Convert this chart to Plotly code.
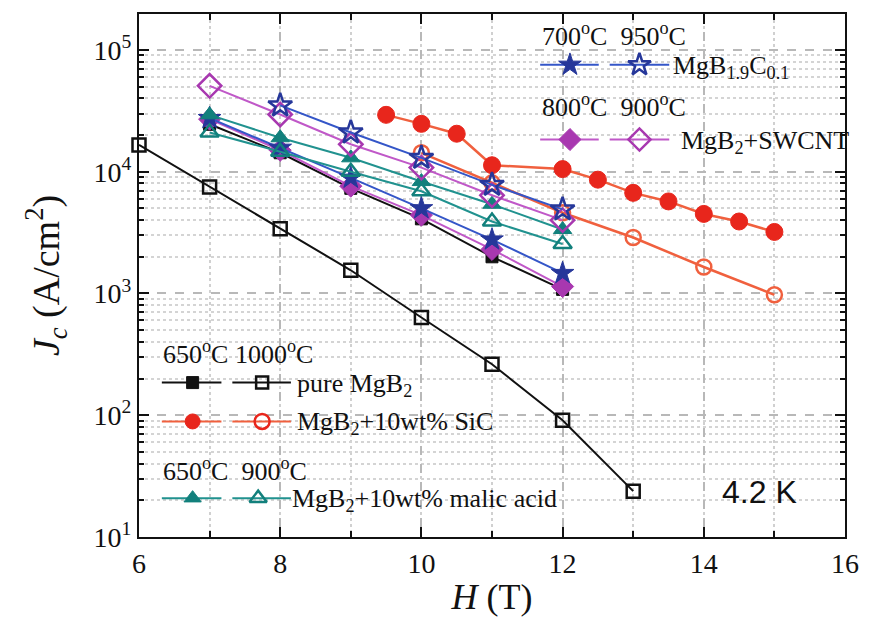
import plotly.graph_objects as go

# ---------------- data ----------------
H_main = [7, 8, 9, 10, 11, 12]
pure_650 = [2.45e4, 1.43e4, 7.3e3, 4.1e3, 2.0e3, 1.08e3]
H_pure1000 = [6, 7, 8, 9, 10, 11, 12, 13]
pure_1000 = [1.66e4, 7.5e3, 3.4e3, 1.55e3, 635, 262, 91, 23.8]

H_sic650 = [9.5, 10, 10.5, 11, 12, 12.5, 13, 13.5, 14, 14.5, 15]
sic_650 = [2.93e4, 2.47e4, 2.05e4, 1.13e4, 1.05e4, 8.6e3, 6.7e3, 5.7e3, 4.5e3, 3.9e3, 3.2e3]
H_sic1000 = [10, 11, 12, 13, 14, 15]
sic_1000 = [1.43e4, 8.1e3, 4.6e3, 2.88e3, 1.65e3, 975]

c_700 = [2.75e4, 1.57e4, 8.9e3, 5.0e3, 2.77e3, 1.47e3]
H_c950 = [8, 9, 10, 11, 12]
c_950 = [3.5e4, 2.1e4, 1.3e4, 7.8e3, 4.9e3]

sw_800 = [2.7e4, 1.5e4, 7.6e3, 4.4e3, 2.3e3, 1.14e3]
sw_900 = [5.07e4, 2.95e4, 1.68e4, 1.08e4, 6.4e3, 4.0e3]

ma_650 = [2.93e4, 1.9e4, 1.3e4, 8.3e3, 5.4e3, 3.35e3]
ma_900 = [2.1e4, 1.46e4, 1.0e4, 6.9e3, 3.9e3, 2.55e3]

x_ticks = [6, 8, 10, 12, 14, 16]
x_ticktext = ["6", "8", "10", "12", "14", "16"]
y_tickvals = [1e1, 1e2, 1e3, 1e4, 1e5]
y_ticktext = ["10<sup>1</sup>", "10<sup>2</sup>", "10<sup>3</sup>", "10<sup>4</sup>", "10<sup>5</sup>"]

# ---------------- styles ----------------
BLACK = "#111111"
RED_F = "#e8261c"
RED_O = "#f0603e"
BLUE_L = "#3456c8"
BLUE_F = "#26379a"
MAG_L = "#c058c8"
MAG_F = "#a838b0"
TEAL_L = "#21928f"
TEAL_F = "#12807c"
SERIF = "Liberation Serif"
SANS = "Liberation Sans"

fig = go.Figure()

def add(x, y, color, mcolor, symbol, size, filled, lw=2):
    fig.add_trace(go.Scatter(
        x=x, y=y, mode="lines+markers", cliponaxis=False,
        line=dict(color=color, width=lw),
        marker=dict(symbol=symbol if filled else symbol + "-open", size=size,
                    color=mcolor, line=dict(color=mcolor, width=2.5 if not filled else 1)),
        showlegend=False))

add(H_pure1000, pure_1000, BLACK, BLACK, "square", 13, False)
add(H_sic1000, sic_1000, RED_O, RED_O, "circle", 15, False, 2.5)
add(H_sic650, sic_650, RED_O, RED_F, "circle", 17, True, 2.5)
add(H_main, pure_650, BLACK, BLACK, "square", 12, True)
add(H_main, sw_800, MAG_L, MAG_F, "diamond", 17, True)
add(H_main, c_700, BLUE_L, BLUE_F, "star", 17, True)
add(H_main, ma_900, TEAL_L, TEAL_F, "triangle-up", 16, False)
add(H_main, ma_650, TEAL_L, TEAL_F, "triangle-up", 16, True)
add(H_main, sw_900, MAG_L, MAG_F, "diamond", 18, False)
add(H_c950, c_950, BLUE_L, BLUE_F, "star", 18, False)

# ---------------- custom legend on overlay axis (pixel-like coords) ----------------
def leg_row(y, color, mcolor, symbol, size, xs=(543, 602, 613, 673), m=(573, 643)):
    for a, b in [(xs[0], xs[1]), (xs[2], xs[3])]:
        fig.add_trace(go.Scatter(x=[a, b], y=[y, y], mode="lines", xaxis="x2", yaxis="y2",
                                 line=dict(color=color, width=2), showlegend=False,
                                 hoverinfo="skip", cliponaxis=False))
    fig.add_trace(go.Scatter(x=[m[0]], y=[y], mode="markers", xaxis="x2", yaxis="y2",
                             marker=dict(symbol=symbol, size=size, color=mcolor,
                                         line=dict(color=mcolor, width=1)),
                             showlegend=False, hoverinfo="skip", cliponaxis=False))
    fig.add_trace(go.Scatter(x=[m[1]], y=[y], mode="markers", xaxis="x2", yaxis="y2",
                             marker=dict(symbol=symbol + "-open", size=size, color=mcolor,
                                         line=dict(color=mcolor, width=2.5)),
                             showlegend=False, hoverinfo="skip", cliponaxis=False))

leg_row(63, BLUE_L, BLUE_F, "star", 17)
leg_row(138, MAG_L, MAG_F, "diamond", 17)
BL = (162, 222, 233, 292)
BM = (193, 263)
leg_row(382, BLACK, BLACK, "square", 12, BL, BM)
leg_row(421, RED_O, RED_F, "circle", 15, BL, BM)
leg_row(498, TEAL_L, TEAL_F, "triangle-up", 15, BL, (193, 259))

def txt(x, y, s, size=26, family=SERIF, anchor="left"):
    fig.add_annotation(x=x, y=y, xref="x2", yref="y2", text=s, showarrow=False,
                       xanchor=anchor, yanchor="middle",
                       font=dict(family=family, size=size, color=BLACK))

txt(543, 33, "700<sup>o</sup>C  950<sup>o</sup>C")
txt(675, 65, "MgB<sub>1.9</sub>C<sub>0.1</sub>")
txt(543, 104, "800<sup>o</sup>C  900<sup>o</sup>C")
txt(683, 140, "MgB<sub>2</sub>+SWCNT")
txt(161, 352, "650<sup>o</sup>C 1000<sup>o</sup>C")
txt(296, 384, "pure MgB<sub>2</sub>")
txt(296, 423, "MgB<sub>2</sub>+10wt% SiC")
txt(161, 469, "650<sup>o</sup>C  900<sup>o</sup>C")
txt(291, 500, "MgB<sub>2</sub>+10wt% malic acid")
txt(764, 492, "4.2 K", size=32, family=SANS, anchor="center")

# ---------------- layout ----------------
minor_y = [k * 10 ** n for n in range(1, 5) for k in range(2, 10)] + [2e5]

axis_common = dict(showline=True, linecolor=BLACK, linewidth=2, mirror="allticks",
                   ticks="inside", ticklen=10, tickwidth=2, tickcolor=BLACK,
                   showgrid=True, gridcolor="#b8b8b8", griddash="dash", gridwidth=1.5,
                   zeroline=False,
                   tickfont=dict(family=SERIF, size=28, color=BLACK))

fig.update_layout(
    width=871, height=632,
    margin=dict(l=139, r=21, t=12, b=95),
    paper_bgcolor="white", plot_bgcolor="white",
    showlegend=False,
    font=dict(family=SERIF, color=BLACK),
    xaxis=dict(range=[6, 16], tickvals=x_ticks, ticktext=x_ticktext,
               minor=dict(dtick=1, tick0=6, ticks="inside", ticklen=6, tickwidth=2,
                          tickcolor=BLACK, showgrid=True, gridcolor="#d0d0d0",
                          griddash="dot", gridwidth=1.5),
               title=dict(text="<i>H</i> (T)", font=dict(family=SERIF, size=36, color=BLACK),
                          standoff=6),
               **axis_common),
    yaxis=dict(type="log", range=[1, 5.295], tickvals=y_tickvals, ticktext=y_ticktext,
               minor=dict(tickvals=minor_y, ticks="inside", ticklen=5, tickwidth=1.5,
                          tickcolor=BLACK, showgrid=True, gridcolor="#d4d4d4",
                          griddash="dot", gridwidth=1.5),
               title=dict(text="<i>J</i><sub><i>c</i></sub> (A/cm<sup>2</sup>)",
                          font=dict(family=SERIF, size=38, color=BLACK), standoff=22),
               **axis_common),
    xaxis2=dict(overlaying="x", range=[139, 850], visible=False),
    yaxis2=dict(overlaying="y", range=[537, 12], visible=False),
)

fig.write_html("out.html")
